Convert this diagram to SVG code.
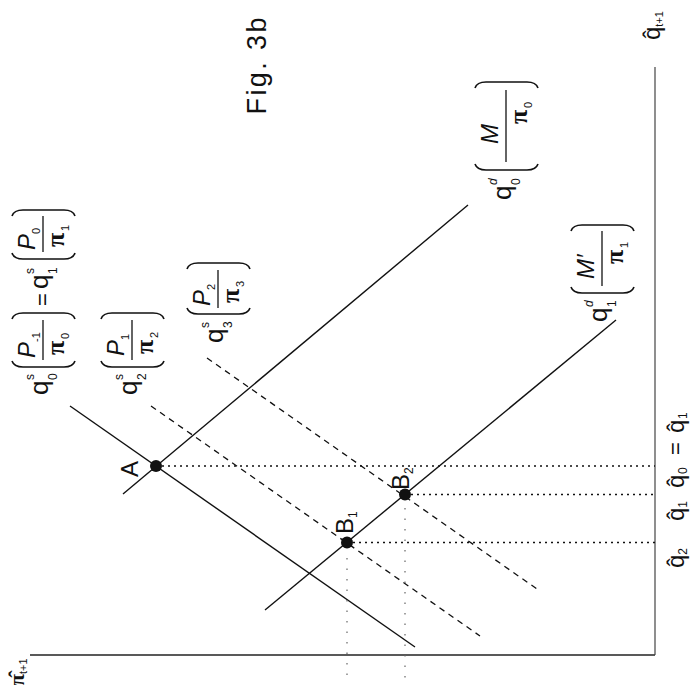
<svg xmlns="http://www.w3.org/2000/svg" width="694" height="685" viewBox="0 0 694 685">
<style>
  text { font-family: "Liberation Sans", Arial, sans-serif; fill: #111; }
  .it { font-style: italic; }
  .pi { font-family: "Liberation Serif", "Times New Roman", serif; font-weight: bold; }
  .ax { stroke: #222; stroke-width: 1.5; fill: none; }
  .sol { stroke: #111; stroke-width: 1.4; fill: none; }
  .dash { stroke: #111; stroke-width: 1.3; stroke-dasharray: 6 5; fill: none; }
  .dot { stroke: #111; stroke-width: 1.7; stroke-dasharray: 2 4; fill: none; }
  .vdot { stroke: #666; stroke-width: 1.2; stroke-dasharray: 1.5 9; fill: none; }
  .par { stroke: #111; stroke-width: 1.6; fill: none; }
  .bar { stroke: #111; stroke-width: 1.3; }
</style>
<defs>
  <path id="po" class="par" d="M6,-31 Q0,-29 0,-20 L0,21 Q0,30 6,32"/>
  <path id="pc" class="par" d="M-6,-31 Q0,-29 0,-20 L0,21 Q0,30 -6,32"/>
</defs>
<rect width="694" height="685" fill="#fff"/>

<g id="axes">
  <line class="ax" x1="30" y1="655" x2="655" y2="655"/>
  <line class="ax" x1="655" y1="67" x2="655" y2="655" style="stroke:#444;stroke-width:1.2"/>
</g>

<g id="connectors">
  <line class="sol" x1="70" y1="406" x2="415" y2="647"/>
  <line class="sol" x1="123" y1="494" x2="468" y2="205"/>
  <line class="sol" x1="265" y1="610" x2="616" y2="320"/>
  <line class="dash" x1="151" y1="406" x2="480" y2="636"/>
  <line class="dash" x1="207" y1="358" x2="537" y2="589"/>
  <line class="dot" x1="162" y1="466" x2="655" y2="466"/>
  <line class="dot" x1="411" y1="494.5" x2="655" y2="494.5"/>
  <line class="dot" x1="353" y1="542.5" x2="655" y2="542.5"/>
  <line class="vdot" x1="347" y1="558" x2="347" y2="680"/>
  <line class="vdot" x1="405" y1="508" x2="405" y2="680"/>
</g>

<g id="point-A">
  <circle cx="156" cy="466" r="6" fill="#111"/>
  <text transform="translate(138,477) rotate(-90)" font-size="24">A</text>
</g>
<g id="point-B1">
  <circle cx="347" cy="542.5" r="6" fill="#111"/>
  <text transform="translate(353,534) rotate(-90)" font-size="24">B<tspan font-size="12" dy="4">1</tspan></text>
</g>
<g id="point-B2">
  <circle cx="405" cy="494.5" r="6" fill="#111"/>
  <text transform="translate(409,490) rotate(-90)" font-size="24">B<tspan font-size="12" dy="4">2</tspan></text>
</g>

<g id="title">
  <text transform="translate(266,66) rotate(-90)" font-size="27" text-anchor="middle" textLength="97" lengthAdjust="spacing">Fig. 3b</text>
</g>

<g id="axis-labels">
  <text transform="translate(24,686) rotate(-90)"><tspan class="pi" font-size="22">π̂</tspan><tspan font-size="11" dy="3">t+1</tspan></text>
  <text transform="translate(660,40) rotate(-90)"><tspan font-size="24">q̂</tspan><tspan font-size="11" dy="3">t+1</tspan></text>
</g>

<g id="q-hat-labels">
  <text transform="translate(684,568) rotate(-90)" font-size="24">q̂<tspan font-size="12" dy="3">2</tspan></text>
  <text transform="translate(684,521) rotate(-90)" font-size="24">q̂<tspan font-size="12" dy="3">1</tspan></text>
  <g transform="translate(684,488) rotate(-90)">
    <text x="0" y="0" font-size="24">q̂</text>
    <text x="14" y="3" font-size="12">0</text>
    <text x="33" y="-1" font-size="22">=</text>
    <text x="55" y="0" font-size="24">q̂</text>
    <text x="69" y="3" font-size="12">1</text>
  </g>
</g>

<g id="label-qs0-qs1" transform="translate(43,395) rotate(-90)">
  <text x="0" y="5" font-size="26">q</text>
  <text x="15" y="-9" font-size="12">s</text>
  <text x="15" y="14" font-size="12">0</text>
  <use href="#po" x="28"/>
  <text class="it" x="37" y="-8" font-size="24">P</text>
  <text x="53" y="-3" font-size="11">-1</text>
  <line class="bar" x1="35" y1="0" x2="75" y2="0"/>
  <text class="pi" x="40" y="21" font-size="26">π</text>
  <text x="56" y="26" font-size="11">0</text>
  <use href="#pc" x="82"/>
  <text x="89" y="7" font-size="22">=</text>
  <text x="106" y="5" font-size="26">q</text>
  <text x="121" y="-9" font-size="12">s</text>
  <text x="121" y="14" font-size="12">1</text>
  <use href="#po" x="136"/>
  <text class="it" x="145" y="-8" font-size="24">P</text>
  <text x="161" y="-3" font-size="11">0</text>
  <line class="bar" x1="143" y1="0" x2="179" y2="0"/>
  <text class="pi" x="148" y="21" font-size="26">π</text>
  <text x="164" y="26" font-size="11">1</text>
  <use href="#pc" x="185"/>
</g>

<g id="label-qs2" transform="translate(132,395) rotate(-90)">
  <text x="0" y="5" font-size="26">q</text>
  <text x="15" y="-9" font-size="12">s</text>
  <text x="15" y="14" font-size="12">2</text>
  <use href="#po" x="28"/>
  <text class="it" x="39" y="-8" font-size="24">P</text>
  <text x="55" y="-3" font-size="11">1</text>
  <line class="bar" x1="35" y1="0" x2="75" y2="0"/>
  <text class="pi" x="41" y="21" font-size="26">π</text>
  <text x="57" y="26" font-size="11">2</text>
  <use href="#pc" x="82"/>
</g>

<g id="label-qs3" transform="translate(218,343) rotate(-90)">
  <text x="0" y="5" font-size="26">q</text>
  <text x="15" y="-9" font-size="12">s</text>
  <text x="15" y="14" font-size="12">3</text>
  <use href="#po" x="29"/>
  <text class="it" x="37" y="-8" font-size="24">P</text>
  <text x="53" y="-3" font-size="11">2</text>
  <line class="bar" x1="35" y1="0" x2="73" y2="0"/>
  <text class="pi" x="40" y="21" font-size="26">π</text>
  <text x="56" y="26" font-size="11">3</text>
  <use href="#pc" x="80"/>
</g>

<g id="label-qd0" transform="translate(506,200) rotate(-90)">
  <text x="0" y="5" font-size="26">q</text>
  <text class="it" x="15" y="-9" font-size="12">d</text>
  <text x="15" y="14" font-size="12">0</text>
  <use href="#po" x="30"/>
  <text class="it" x="56" y="-8" font-size="24">M</text>
  <line class="bar" x1="38" y1="0" x2="110" y2="0"/>
  <text class="pi" x="76" y="21" font-size="26">π</text>
  <text x="92" y="26" font-size="11">0</text>
  <use href="#pc" x="118"/>
</g>

<g id="label-qd1" transform="translate(602,322) rotate(-90)">
  <text x="0" y="5" font-size="26">q</text>
  <text class="it" x="15" y="-9" font-size="12">d</text>
  <text x="15" y="14" font-size="12">1</text>
  <use href="#po" x="29"/>
  <text class="it" x="43" y="-8" font-size="24">M′</text>
  <line class="bar" x1="36" y1="0" x2="91" y2="0"/>
  <text class="pi" x="58" y="21" font-size="26">π</text>
  <text x="74" y="26" font-size="11">1</text>
  <use href="#pc" x="97"/>
</g>
</svg>
